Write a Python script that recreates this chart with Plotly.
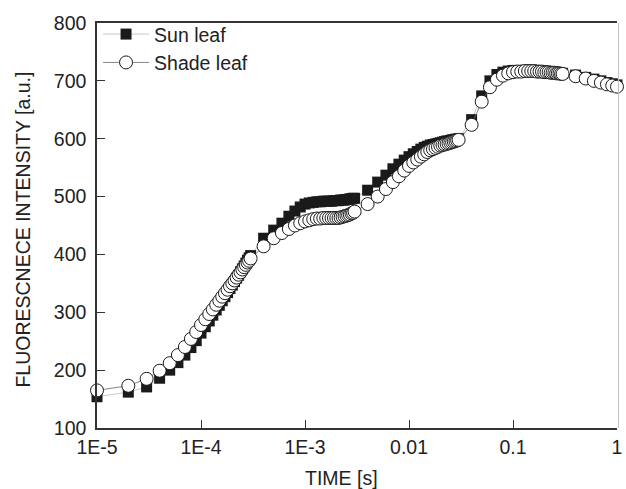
import plotly.graph_objects as go

# Time points (ms)
time_ms = [
    0.01, 0.02, 0.03, 0.04, 0.05, 0.06, 0.07, 0.08, 0.09, 0.10,
    0.11, 0.12, 0.13, 0.14, 0.15, 0.16, 0.17, 0.18, 0.19, 0.20,
    0.21, 0.22, 0.23, 0.24, 0.25, 0.26, 0.27, 0.28, 0.29, 0.30,
    0.4, 0.5, 0.6, 0.7, 0.8, 0.9, 1.0, 1.1, 1.2, 1.3,
    1.4, 1.5, 1.6, 1.7, 1.8, 1.9, 2.0, 2.1, 2.2, 2.3,
    2.4, 2.5, 2.6, 2.7, 2.8, 2.9, 3.0,
    4, 5, 6, 7, 8, 9, 10, 11, 12, 13,
    14, 15, 16, 17, 18, 19, 20, 21, 22, 23,
    24, 25, 26, 27, 28, 29, 30,
    40, 50, 60, 70, 80, 90, 100, 110, 120, 130,
    140, 150, 160, 170, 180, 190, 200, 210, 220, 230,
    240, 250, 260, 270, 280, 290, 300,
    400, 500, 600, 700, 800, 900, 1000,
]

sun_leaf = [
    154, 162, 171, 186, 200, 213, 226, 239, 251, 264,
    275, 285, 295, 304, 312, 320, 327, 334, 341, 347,
    353, 359, 364, 370, 375, 380, 385, 390, 394, 398,
    428, 442, 454, 466, 475, 482, 487, 489, 490, 491,
    491, 492, 492, 492, 492, 493, 493, 493, 494, 494,
    494, 495, 495, 496, 496, 497, 497,
    511, 525, 537, 548, 556, 563, 569, 574, 578, 582,
    585, 587, 589, 590, 591, 592, 593, 594, 595, 596,
    596, 597, 598, 598, 599, 599, 600,
    633, 674, 700, 711, 715, 717, 718, 718, 718, 718,
    718, 718, 718, 717, 717, 717, 716, 716, 716, 715,
    715, 715, 714, 714, 714, 713, 713,
    710, 706, 703, 700, 697, 695, 693,
]

shade_leaf = [
    165, 173, 185, 199, 212, 226, 240, 254, 266, 278,
    288, 297, 305, 313, 320, 327, 333, 339, 345, 350,
    355, 360, 365, 369, 374, 378, 382, 386, 389, 393,
    414, 428, 437, 444, 450, 454, 457, 459, 461, 462,
    462, 463, 463, 463, 463, 463, 463, 463, 464, 465,
    466, 467, 468, 469, 471, 472, 474,
    487, 500, 513, 525, 535, 545, 553, 559, 564, 569,
    573, 577, 580, 582, 584, 586, 588, 589, 590, 591,
    592, 593, 594, 595, 596, 597, 598,
    624, 664, 689, 702, 709, 713, 715, 716, 716, 717,
    717, 717, 717, 716, 716, 716, 715, 715, 715, 714,
    714, 714, 713, 713, 713, 712, 712,
    708, 704, 700, 697, 694, 692, 690,
]

x_tick_vals = [1e-5, 1e-4, 1e-3, 1e-2, 1e-1, 1]
x_tick_text = ["1E-5", "1E-4", "1E-3", "0.01", "0.1", "1"]
y_tick_vals = [100, 200, 300, 400, 500, 600, 700, 800]

time_s = [t / 1000.0 for t in time_ms]

FONT = "Liberation Sans, Arial, sans-serif"
FS = 19.5
TXT = "#222222"
AX = "#333333"

fig = go.Figure()
fig.add_trace(go.Scatter(
    x=time_s, y=sun_leaf, name="Sun leaf", mode="lines+markers",
    line=dict(color="#c8c8c8", width=1),
    marker=dict(symbol="square", size=11, color="#1a1a1a", line=dict(width=0)),
    cliponaxis=False,
))
fig.add_trace(go.Scatter(
    x=time_s, y=shade_leaf, name="Shade leaf", mode="lines+markers",
    line=dict(color="#666666", width=0.8),
    marker=dict(symbol="circle", size=13, color="white", line=dict(width=1, color="#1a1a1a")),
    cliponaxis=False,
))

fig.update_layout(
    width=626, height=489,
    margin=dict(l=97, r=4, t=23, b=61),
    paper_bgcolor="white", plot_bgcolor="white",
    font=dict(family=FONT, size=FS, color=TXT),
    showlegend=True,
    legend=dict(x=0.002, y=1.02, xanchor="left", yanchor="top",
                bgcolor="rgba(0,0,0,0)", borderwidth=0,
                font=dict(family=FONT, size=FS, color=TXT),
                itemwidth=46, tracegroupgap=0),
    xaxis=dict(
        type="log", range=[-5, 0],
        tickvals=x_tick_vals, ticktext=x_tick_text,
        ticks="inside", ticklen=8, tickwidth=1.3, tickcolor=AX,
        showline=True, linecolor=AX, linewidth=1.5, mirror=True,
        showgrid=False, zeroline=False,
        ticklabeloverflow="allow", ticklabelstandoff=1,
        tickfont=dict(family=FONT, size=FS, color=TXT),
    ),
    yaxis=dict(
        range=[100, 800], tickvals=y_tick_vals,
        ticks="inside", ticklen=8, tickwidth=1.3, tickcolor=AX,
        showline=True, linecolor=AX, linewidth=1.5, mirror=False,
        showgrid=False, zeroline=False,
        ticklabeloverflow="allow", ticklabelstandoff=5,
        tickfont=dict(family=FONT, size=FS, color=TXT),
    ),
    shapes=[dict(type="line", xref="paper", yref="paper", x0=1.003, x1=1.003, y0=0, y1=1,
                 line=dict(color="#c0c0c0", width=1))],
    annotations=[
        dict(text="TIME [s]", xref="paper", yref="paper", x=0.4705, y=-0.1235,
             xanchor="center", yanchor="middle", showarrow=False,
             font=dict(family=FONT, size=FS, color=TXT)),
        dict(text="FLUORESCNECE INTENSITY [a.u.]", xref="paper", yref="paper",
             x=-0.143, y=0.489, xanchor="center", yanchor="middle", textangle=-90,
             showarrow=False, font=dict(family=FONT, size=FS, color=TXT)),
    ],
)

fig.write_html(
    "out.html",
    config={"displayModeBar": False},
    post_script="document.body.style.margin='0';document.body.style.padding='0';",
)
